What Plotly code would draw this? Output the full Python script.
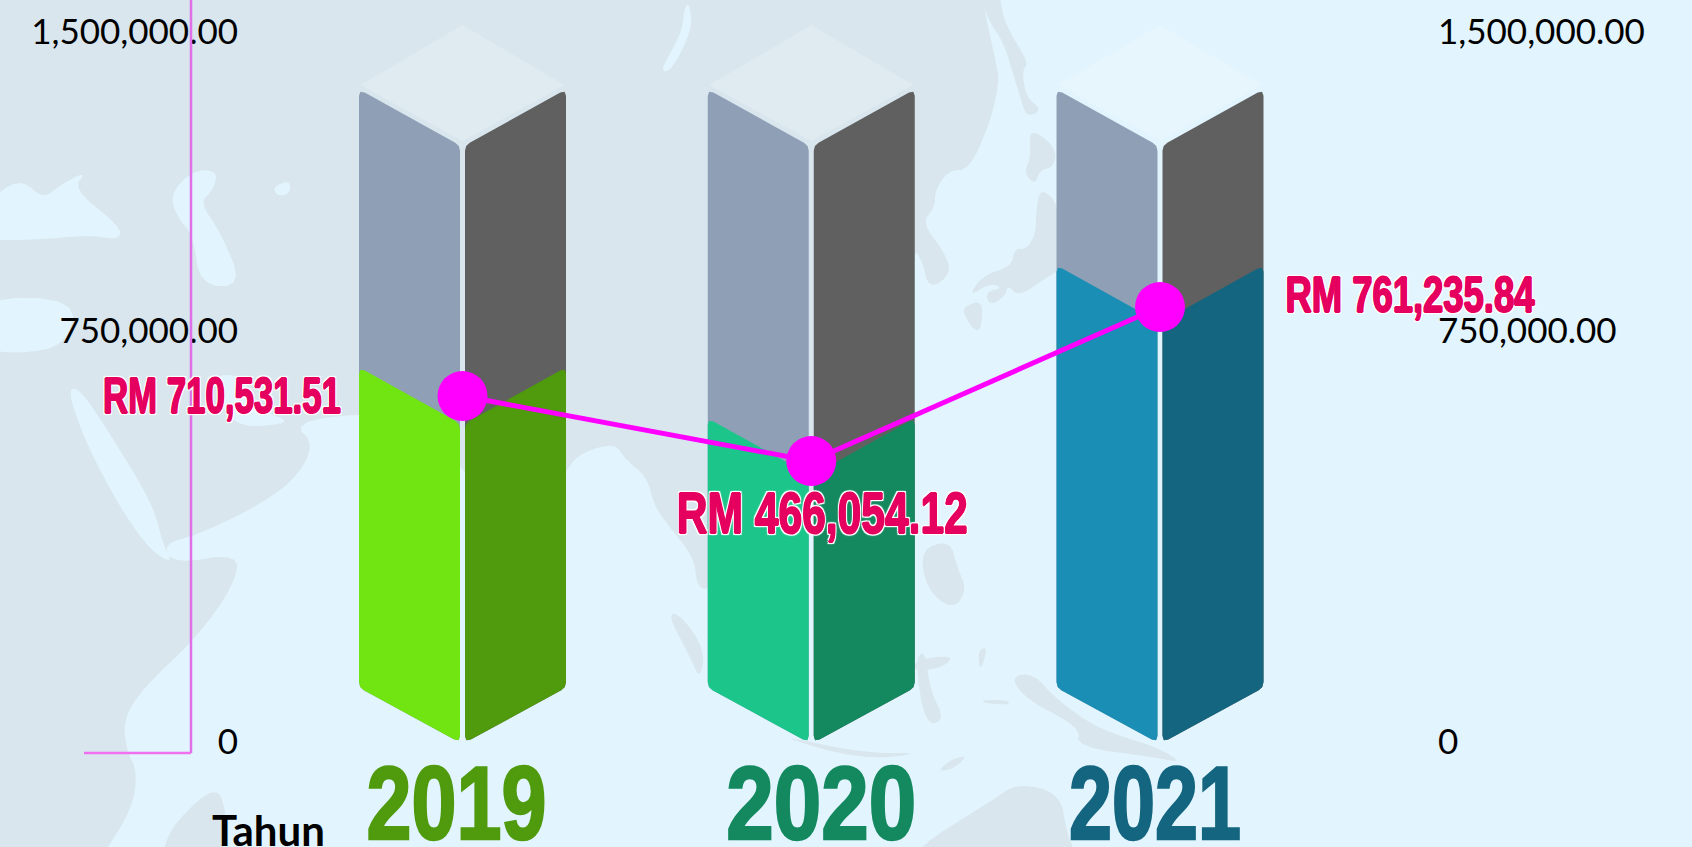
import plotly.graph_objects as go

# ---------- data ----------
years = [2019, 2020, 2021]
amounts = [710531.51, 466054.12, 761235.84]
amount_labels = ["RM 710,531.51", "RM 466,054.12", "RM 761,235.84"]
line_levels = [731000, 593700, 919000]     # marker heights read against the drawn axis
bar_levels = [671800, 564100, 887300]      # filled column heights
column_levels = [1259200, 1259200, 1259200]
tick_positions = [0, 868300, 1500000]
tick_labels = ["0", "750,000.00", "1,500,000.00"]

# ---------- style ----------
W, H = 1692, 847
BASE_PY = 753
OCEAN, LAND = "#E2F4FD", "#D9E6EE"
LEFT_FILL = ["#70E512", "#1CC68B", "#1A8EB4"]
RIGHT_FILL = ["#4F9A0D", "#14895F", "#14657F"]
GREY_L, GREY_R = "#8F9FB6", "#606060"
PINK = "#FF00FF"
LABEL = "#E5005F"
PX_PER_YEAR = 348.75
X0_PX = 462.5
UNITS_PER_PX = 1500000 / 710
xr = [2019 - X0_PX / PX_PER_YEAR, 2019 + (W - X0_PX) / PX_PER_YEAR]
yr = [-(BASE_PY - 742) * UNITS_PER_PX, 742 * UNITS_PER_PX]
dx = lambda px: px / PX_PER_YEAR
dy = lambda px: px * UNITS_PER_PX
HALF, GAP, DROP = dx(102.5), dx(3.5), dy(55)

def rounded(xs, ys, r=5):
    """Cut each corner of a polygon by r screen pixels (screen-aspect aware)."""
    n = len(xs)
    ox, oy = [], []
    for i in range(n):
        x, y = xs[i] * PX_PER_YEAR, ys[i] / UNITS_PER_PX
        out = []
        for j in (i - 1, (i + 1) % n):
            qx, qy = xs[j] * PX_PER_YEAR, ys[j] / UNITS_PER_PX
            d = ((qx - x) ** 2 + (qy - y) ** 2) ** 0.5
            k = min(r / d, 0.4)
            out.append((x + (qx - x) * k, y + (qy - y) * k))
        a, b = out
        mid = ((a[0] + b[0]) / 2 * 0.5 + x * 0.5, (a[1] + b[1]) / 2 * 0.5 + y * 0.5)
        for p in (a, mid, b):
            ox.append(p[0] / PX_PER_YEAR)
            oy.append(p[1] * UNITS_PER_PX)
    return ox + ox[:1], oy + oy[:1]

def face(c, side, level, color, yaxis):
    ins, out = c + side * GAP, c + side * HALF
    xs, ys = rounded([ins, out, out, ins], [dy(1), DROP, level + DROP, level])
    return go.Scatter(x=xs, y=ys, mode="lines", fill="toself", fillcolor=color,
                      line=dict(color=color, width=2), hoverinfo="skip",
                      showlegend=False, yaxis=yaxis)

fig = go.Figure()
for i, y in enumerate(years):
    lvl = column_levels[i]
    fig.add_trace(go.Scatter(x=[y, y - dx(102), y, y + dx(102), y],
                             y=[lvl + dy(5), lvl + dy(61), lvl + dy(121), lvl + dy(61), lvl + dy(5)],
                             mode="lines", fill="toself", fillcolor="rgba(255,255,255,0.2)",
                             line=dict(width=0), hoverinfo="skip", showlegend=False, yaxis="y"))
    fig.add_trace(face(y, -1, lvl, GREY_L, "y"))
    fig.add_trace(face(y, 1, lvl, GREY_R, "y"))
for i, y in enumerate(years):
    fig.add_trace(face(y, -1, bar_levels[i], LEFT_FILL[i], "y2"))
    fig.add_trace(face(y, 1, bar_levels[i], RIGHT_FILL[i], "y2"))
fig.add_trace(go.Scatter(x=years, y=line_levels, customdata=amounts, mode="lines+markers",
                         line=dict(color=PINK, width=5),
                         marker=dict(color=PINK, size=50),
                         hovertemplate="%{x}: RM %{customdata:,.2f}<extra></extra>",
                         showlegend=False, yaxis="y2"))

# ---------- decorative world map ----------
def chaikin(pts, n=2):
    for _ in range(n):
        new = []
        for a, b in zip(pts, pts[1:] + pts[:1]):
            new.append((a[0] * .75 + b[0] * .25, a[1] * .75 + b[1] * .25))
            new.append((a[0] * .25 + b[0] * .75, a[1] * .25 + b[1] * .75))
        pts = new
    return pts

def path(pts):
    pts = chaikin(pts)
    return "M " + " L ".join(f"{px / W:.5f},{(BASE_PY - py) / BASE_PY:.5f}" for px, py in pts) + " Z"

land = [
    [(-600,-600),(975,-60),(983,0),(988,27),(997,67),(999,83),(990,123),(969,170),(949,170),(935,190),(935,207),(922,223),
     (943,250),(952,273),(929,290),(922,260),(913,248),(905,330),(900,430),(860,480),(780,520),(710,590),
     (697,587),(694,557),(668,525),(654,505),(647,477),(626,460),(615,443),(583,452),(567,467),(520,560),
     (470,470),(400,420),(358,413),(293,423),(315,445),(293,482),(250,510),(197,535),(163,544),
     (173,564),(240,553),(233,587),(197,637),(143,688),(123,720),(127,752),(137,770),(133,807),(100,860),(70,910),(-600,1500)],
    [(160,880),(163,847),(177,820),(217,784),(227,816),(223,847),(223,880)],
    [(900,880),(917,847),(993,800),(1017,783),(1060,793),(1067,833),(1073,847),(1080,880)],
    [(1010,677),(1033,673),(1057,700),(1100,730),(1157,747),(1183,763),(1153,757),(1077,747),(1080,727),(1027,700)],
    [(920,550),(950,540),(957,567),(967,590),(953,610),(927,590)],
    [(667,613),(681,615),(705,650),(700,680),(690,657)],
    [(769,733),(861,753),(926,753),(861,760)],
    [(915,660),(925,650),(930,690),(945,720),(925,725)],
    [(915,660),(954,655),(944,667),(915,672)],
    [(978,650),(988,647),(980,673)],
    [(983,700),(1007,700),(1010,705),(983,703)],
    [(937,772),(950,760),(968,755),(955,768)],
    [(979,-10),(999,-10),(1004,23),(1029,63),(1022,70),(1026,97),(1042,110),(1027,117),(1022,103),(1015,80),(1004,43),(988,20)],
    [(1029,127),(1056,147),(1054,167),(1040,170),(1035,185),(1024,173),(1031,157)],
    [(1040,187),(1060,205),(1060,270),(1047,277),(1019,297),(1008,285),(1005,296),(990,306),(985,292),(1003,288),
     (990,283),(968,297),(983,275),(1011,267),(1015,248),(1026,250),(1036,233),(1036,213)],
    [(963,307),(983,300),(981,330),(974,330),(965,317)],
]
water = [
    [(-20,217),(0,190),(23,180),(43,199),(60,185),(87,171),(73,189),(120,226),(120,240),(90,235),(33,240),(-20,240)],
    [(-20,297),(77,299),(67,345),(20,354),(-20,349)],
    [(170,194),(193,170),(218,171),(213,190),(200,203),(220,231),(243,286),(200,286),(193,235),(177,217)],
    [(273,187),(290,180),(290,194),(277,196)],
    [(67,390),(80,388),(117,445),(153,505),(163,544),(173,564),(150,550),(125,515),(105,480),(85,440)],
    [(213,375),(240,375),(255,400),(265,412),(293,423),(240,428),(220,405)],
    [(685,5),(690,5),(692,30),(672,70),(660,72),(672,50),(682,30)],
]
shapes = [dict(type="path", path=path(p), xref="paper", yref="paper", fillcolor=LAND,
               line=dict(width=0), layer="below") for p in land]
shapes += [dict(type="path", path=path(p), xref="paper", yref="paper", fillcolor=OCEAN,
                line=dict(width=0), layer="below") for p in water]
# axis lines of the pink frame
AXIS_PX = 191
shapes.append(dict(type="line", xref="paper", yref="paper", x0=AXIS_PX / W, x1=AXIS_PX / W, y0=0, y1=1,
                   line=dict(color="#E070E8", width=2.5), layer="above"))
shapes.append(dict(type="line", xref="paper", yref="paper", x0=84 / W, x1=AXIS_PX / W, y0=0, y1=0,
                   line=dict(color="#F070F0", width=2.5), layer="above"))

# ---------- labels ----------
thick = [(1,0),(-1,0),(0,1),(0,-1)]
halo_pts = [(2,0),(-2,0),(0,2),(0,-2),(2,2),(-2,-2),(2,-2),(-2,2)]
halo = ",".join([f"{a}px {b}px 0 {LABEL}" for a, b in thick] + [f"{a}px {b}px 1px #ffffff" for a, b in halo_pts])
offsets = [(-241, 0), (11, -52), (250, 12)]
annotations = []
for i, y in enumerate(years):
    sx, sy = offsets[i]
    annotations.append(dict(x=y, y=line_levels[i], xref="x", yref="y2", text=amount_labels[i],
                            showarrow=False, xshift=sx, yshift=sy, xanchor="center", yanchor="middle",
                            font=dict(family="Liberation Sans", size=50 if i != 1 else 58, color=LABEL,
                                      weight=700, shadow=halo)))
annotations.append(dict(xref="paper", yref="paper", x=268.5 / W, y=(BASE_PY - 830) / BASE_PY, text="Tahun",
                        xanchor="center", yanchor="middle",
                        showarrow=False, font=dict(family="Lato", size=42, color="#000000", weight=700)))

year_text = [f'<span style="color:{c}">{y}</span>' for y, c in zip(years, RIGHT_FILL)]
tickfont = dict(family="Lato", size=35, color="#000000")

fig.update_layout(
    width=W, height=H, autosize=False,
    margin=dict(l=0, r=0, t=0, b=H - BASE_PY, pad=0),
    paper_bgcolor=OCEAN, plot_bgcolor="rgba(0,0,0,0)",
    showlegend=False, shapes=shapes, annotations=annotations,
    xaxis=dict(range=xr, domain=[0, 1], tickmode="array", tickvals=years, ticktext=year_text, automargin=False,
               tickfont=dict(family="Liberation Sans", size=103, weight=700, color="#000000"),
               ticks="", showgrid=False, zeroline=False, showline=False, ticklabelstandoff=4),
    yaxis=dict(range=yr, domain=[0, 1], tickmode="array", tickvals=tick_positions, ticktext=tick_labels, tickfont=tickfont,
               side="right", anchor="free", position=1437 / W, ticks="", showgrid=False, automargin=False,
               zeroline=False, showline=False),
    yaxis2=dict(range=yr, domain=[0, 1], tickmode="array", tickvals=tick_positions, ticktext=tick_labels, tickfont=tickfont,
                side="left", anchor="free", position=238 / W, overlaying="y", ticks="", showgrid=False, automargin=False,
                zeroline=False, showline=False),
)

# Narrow the heavy display text to the condensed look of the reference (it stays real text).
post = """
document.documentElement.style.margin='0';document.body.style.margin='0';
document.documentElement.style.overflow='hidden';
function squeeze(el,len){el.setAttribute('textLength',len);el.setAttribute('lengthAdjust','spacingAndGlyphs');}
var cols=%s, ws=[180,190,172], sh=[-6,10,-5];
document.querySelectorAll('.xtick text').forEach(function(t,i){squeeze(t,ws[i]);
 t.style.stroke=cols[i];t.style.strokeWidth='2.5px';
 t.setAttribute('transform',(t.getAttribute('transform')||'')+' translate('+sh[i]+',-22)');
 t.querySelectorAll('tspan').forEach(function(s){s.style.stroke=cols[i];s.style.strokeWidth='2.5px';});});
var lw=[238,291,249];
document.querySelectorAll('.annotation-text').forEach(function(t,i){if(i<3){squeeze(t,lw[i]);}});
""" % (RIGHT_FILL,)
fig.write_html("out.html", config=dict(displayModeBar=False), post_script=post,
               default_width=f"{W}px", default_height=f"{H}px")
